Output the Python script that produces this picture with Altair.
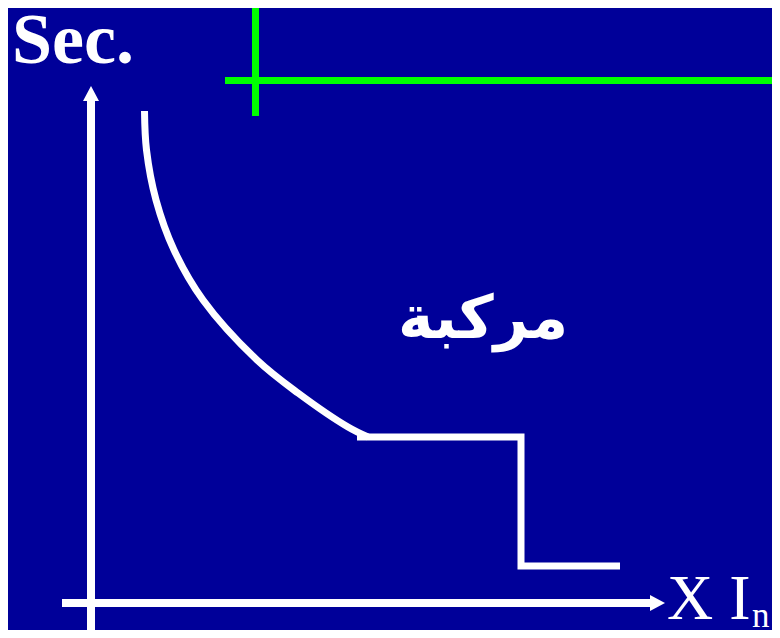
import altair as alt
import pandas as pd

# Units: x in multiples of In, y in seconds (arbitrary scale)
curve_x = [1.07, 1.11, 1.30, 1.66, 2.24, 3.32, 4.14, 5.14, 5.54]
curve_y = [9.84, 9.06, 8.06, 7.06, 6.06, 4.86, 4.20, 3.52, 3.32]
step_x = [5.32, 8.60, 8.60, 10.58]
step_y = [3.32, 3.32, 0.74, 0.74]

# axes (x1, x2, y1, y2)
axis_segments = [(-0.58, 11.18, 0.0, 0.0), (0.0, 0.0, -0.75, 10.04)]
green_segments = [(2.68, 13.9, 10.45, 10.45), (3.29, 3.29, 9.74, 12.2)]

arrow_x = [0.0, 11.18]
arrow_y = [10.04, 0.0]
arrow_shape = ["M0,-1.5L-0.8,0L0.8,0Z", "M1.5,0L0,-0.8L0,0.8Z"]

BG = "#000099"
XD = [-1.66, 13.62]
YD = [-0.54, 11.9]

xs = alt.Scale(domain=XD, nice=False, zero=False)
ys = alt.Scale(domain=YD, nice=False, zero=False)

curve_df = pd.DataFrame({"x": curve_x, "y": curve_y, "o": list(range(len(curve_x)))})
step_df = pd.DataFrame({"x": step_x, "y": step_y, "o": list(range(len(step_x)))})
axis_df = pd.DataFrame(axis_segments, columns=["x", "x2", "y", "y2"])
green_df = pd.DataFrame(green_segments, columns=["x", "x2", "y", "y2"])
arrow_df = pd.DataFrame({"x": arrow_x, "y": arrow_y, "s": arrow_shape})

curve = alt.Chart(curve_df).mark_line(
    color="white", strokeWidth=7, interpolate="catmull-rom", strokeCap="butt"
).encode(x=alt.X("x:Q", scale=xs, axis=None), y=alt.Y("y:Q", scale=ys, axis=None), order="o:Q")

step = alt.Chart(step_df).mark_line(
    color="white", strokeWidth=7, strokeCap="butt", strokeJoin="miter"
).encode(x=alt.X("x:Q", scale=xs, axis=None), y=alt.Y("y:Q", scale=ys, axis=None), order="o:Q")

axes = alt.Chart(axis_df).mark_rule(color="white", strokeWidth=8, strokeCap="butt").encode(
    x=alt.X("x:Q", scale=xs, axis=None), x2="x2:Q",
    y=alt.Y("y:Q", scale=ys, axis=None), y2="y2:Q")

green = alt.Chart(green_df).mark_rule(color="#00FF00", strokeWidth=7, strokeCap="butt").encode(
    x=alt.X("x:Q", scale=xs, axis=None), x2="x2:Q",
    y=alt.Y("y:Q", scale=ys, axis=None), y2="y2:Q")

arrows = alt.Chart(arrow_df).mark_point(filled=True, color="white", size=400, opacity=1, strokeWidth=0).encode(
    x=alt.X("x:Q", scale=xs, axis=None), y=alt.Y("y:Q", scale=ys, axis=None),
    shape=alt.Shape("s:N", scale=None))

sec = alt.Chart(pd.DataFrame({"x": [-1.58], "y": [10.8], "t": ["Sec."]})).mark_text(
    font="Liberation Serif", fontWeight="bold", fontSize=72, color="white", align="left", baseline="alphabetic"
).encode(x=alt.X("x:Q", scale=xs, axis=None), y=alt.Y("y:Q", scale=ys, axis=None), text="t:N")
xin = alt.Chart(pd.DataFrame({"x": [11.52], "y": [-0.32], "t": ["X I"]})).mark_text(
    font="Liberation Serif", fontSize=64, color="white", align="left", baseline="alphabetic"
).encode(x=alt.X("x:Q", scale=xs, axis=None), y=alt.Y("y:Q", scale=ys, axis=None), text="t:N")
sub = alt.Chart(pd.DataFrame({"x": [13.22], "y": [-0.48], "t": ["n"]})).mark_text(
    font="Liberation Serif", fontSize=35, color="white", align="left", baseline="alphabetic"
).encode(x=alt.X("x:Q", scale=xs, axis=None), y=alt.Y("y:Q", scale=ys, axis=None), text="t:N")
arabic = alt.Chart(pd.DataFrame({"x": [7.84], "y": [5.3], "t": ["مركبة"]})).mark_text(
    font="DejaVu Sans", fontWeight="bold", fontSize=60, color="white", align="center", baseline="alphabetic"
).encode(x=alt.X("x:Q", scale=xs, axis=None), y=alt.Y("y:Q", scale=ys, axis=None), text="t:N")

chart = alt.layer(green, axes, arrows, curve, step, sec, xin, sub, arabic).properties(
    width=764, height=622, background=BG, padding=0, autosize=alt.AutoSizeParams(type="none")
).configure_view(stroke=None)

chart.save("out.html", embed_options={"renderer": "svg", "actions": False})
